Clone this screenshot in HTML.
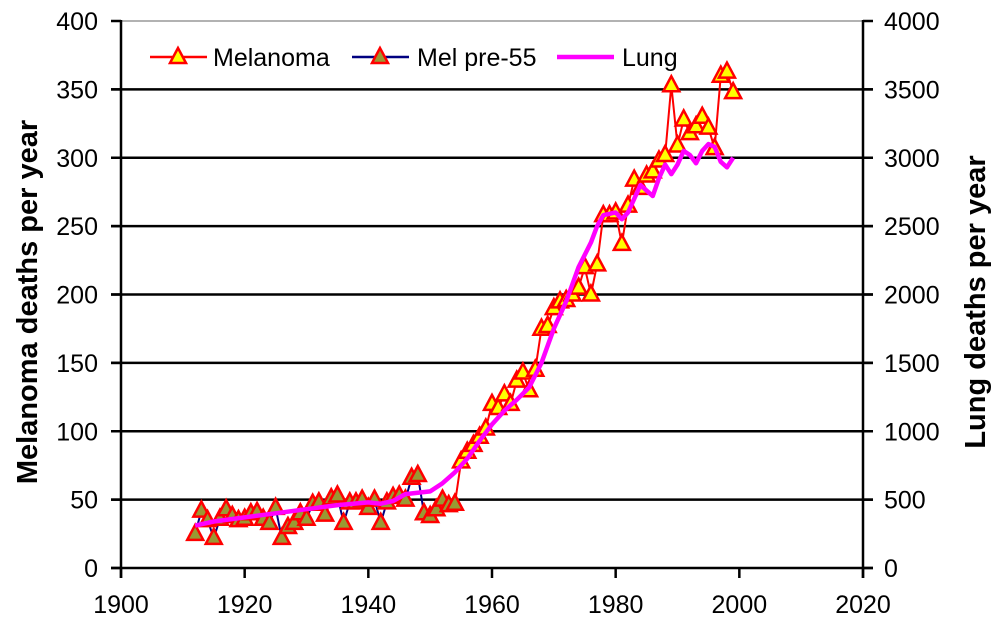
<!DOCTYPE html>
<html><head><meta charset="utf-8"><style>
body{margin:0;background:#fff;}
svg text{font-family:"Liberation Sans",Arial,sans-serif;}
</style></head><body>
<svg id="chart" width="1000" height="631" viewBox="0 0 1000 631" xmlns="http://www.w3.org/2000/svg">
<g id="grid"></g><g id="axes"></g><g id="series"></g><g id="legend"></g>
<text transform="translate(37,302) rotate(-90)" text-anchor="middle" font-size="29" font-weight="bold">Melanoma deaths per year</text>
<text transform="translate(985,302) rotate(-90)" text-anchor="middle" font-size="29" font-weight="bold">Lung deaths per year</text>
</svg>
<script>
const xTicks=[1900,1920,1940,1960,1980,2000,2020];
const yTicksLeft=[0,50,100,150,200,250,300,350,400];
const yTicksRight=[0,500,1000,1500,2000,2500,3000,3500,4000];
const preYears=[1912,1913,1914,1915,1916,1917,1918,1919,1920,1921,1922,1923,1924,1925,1926,1927,1928,1929,1930,1931,1932,1933,1934,1935,1936,1937,1938,1939,1940,1941,1942,1943,1944,1945,1946,1947,1948,1949,1950,1951,1952,1953,1954];
const preValues=[25,42,35,22,36,43,38,35,36,40,41,36,33,44,22,30,33,40,36,47,48,39,51,53,33,48,48,50,44,50,33,48,52,53,50,66,68,40,38,43,50,46,47];
const melYears=[1954,1955,1956,1957,1958,1959,1960,1961,1962,1963,1964,1965,1966,1967,1968,1969,1970,1971,1972,1973,1974,1975,1976,1977,1978,1979,1980,1981,1982,1983,1984,1985,1986,1987,1988,1989,1990,1991,1992,1993,1994,1995,1996,1997,1998,1999];
const melValues=[47,78,85,90,96,102,120,117,127,120,137,143,130,145,175,177,190,195,196,200,205,220,200,222,258,258,260,237,265,284,278,287,290,298,302,353,309,328,318,323,330,322,307,360,363,348];
const lungYears=[1912,1915,1920,1925,1930,1935,1940,1942,1944,1946,1948,1950,1952,1954,1956,1958,1960,1962,1964,1966,1968,1970,1972,1974,1976,1977,1978,1980,1981,1982,1984,1985,1986,1987,1988,1989,1990,1991,1992,1993,1994,1995,1996,1997,1998,1999];
const lungValues=[310,340,370,400,430,460,480,470,490,540,550,560,620,700,800,930,1050,1150,1230,1320,1500,1750,1950,2200,2380,2500,2580,2600,2550,2600,2800,2760,2720,2850,2950,2880,2950,3050,3020,2960,3050,3100,3080,2970,2930,3000];
const X0=121,X1=863,Y0=568,Y1=21;
const xs=v=>X0+(v-1900)/120*(X1-X0);
const ys=v=>Y0-v/400*(Y0-Y1);
const yr=v=>Y0-v/4000*(Y0-Y1);
const NS='http://www.w3.org/2000/svg';
function mk(p,t,a){const e=document.createElementNS(NS,t);for(const k in a)e.setAttribute(k,a[k]);document.getElementById(p).appendChild(e);return e;}
yTicksLeft.forEach((v,i)=>{
 if(v>0){const g=mk('grid','line',{x1:X0-10,x2:X1+10,y1:ys(v),y2:ys(v),stroke:v==400?'#999':'#000','stroke-width':v==400?1.5:2.5});
 
 }
 const t=mk('axes','text',{x:X0-23,y:ys(v)+9,'text-anchor':'end','font-size':25});t.textContent=v;
 
 
 const t2=mk('axes','text',{x:X1+21,y:yr(yTicksRight[i])+9,'text-anchor':'start','font-size':25});t2.textContent=yTicksRight[i];
 
 
 mk('axes','line',{x1:X0-10,x2:X0,y1:ys(v),y2:ys(v),stroke:'#000','stroke-width':2.5});
 mk('axes','line',{x1:X1,x2:X1+10,y1:ys(v),y2:ys(v),stroke:'#000','stroke-width':2.5});
});
xTicks.forEach(v=>{
 mk('axes','line',{x1:xs(v),x2:xs(v),y1:Y0,y2:Y0+10,stroke:'#000','stroke-width':2.5});
 const t=mk('axes','text',{x:xs(v),y:Y0+45,'text-anchor':'middle','font-size':25});t.textContent=v;
 
 
});
mk('axes','line',{x1:X0,x2:X0,y1:Y1-1,y2:Y0+10,stroke:'#000','stroke-width':2.5});
mk('axes','line',{x1:X1,x2:X1,y1:Y1-1,y2:Y0+10,stroke:'#000','stroke-width':2.5});
mk('axes','line',{x1:X0-10,x2:X1+10,y1:Y0,y2:Y0,stroke:'#000','stroke-width':2.5});
function tri(p,x,y,fill){return mk(p,'polygon',{points:`${x},${y-9} ${x-8},${y+6} ${x+8},${y+6}`,fill:fill,stroke:'#f00','stroke-width':2.5,'stroke-linejoin':'miter'});}
let l=mk('series','polyline',{points:preYears.map((y,i)=>xs(y)+','+ys(preValues[i])).join(' '),fill:'none',stroke:'#000080','stroke-width':2});


l=mk('series','polyline',{points:melYears.map((y,i)=>xs(y)+','+ys(melValues[i])).join(' '),fill:'none',stroke:'#f00','stroke-width':2});


preYears.forEach((y,i)=>{const m=tri('series',xs(y),ys(preValues[i]),'#999933');
 
 });
melYears.slice(1).forEach((y,i)=>{const m=tri('series',xs(y),ys(melValues[i+1]),'#ffff00');
 
 });
l=mk('series','polyline',{points:lungYears.map((y,i)=>xs(y)+','+yr(lungValues[i])).join(' '),fill:'none',stroke:'#ff00ff','stroke-width':4.5,'stroke-linejoin':'round'});


const leg=[['Melanoma','#f00','#ffff00',150,213],['Mel pre-55','#000080','#999933',352,417],['Lung','#ff00ff',null,557,622]];
leg.forEach(d=>{
 const ln=mk('legend','line',{x1:d[3],x2:d[3]+57,y1:57,y2:57,stroke:d[1],'stroke-width':d[2]?2.5:4.5});
 
 
 if(d[2]){const m=tri('legend',d[3]+28,57,d[2]);}
 const t=mk('legend','text',{x:d[4],y:66,'font-size':25});t.textContent=d[0];
 
 
});
</script>
</body></html>
